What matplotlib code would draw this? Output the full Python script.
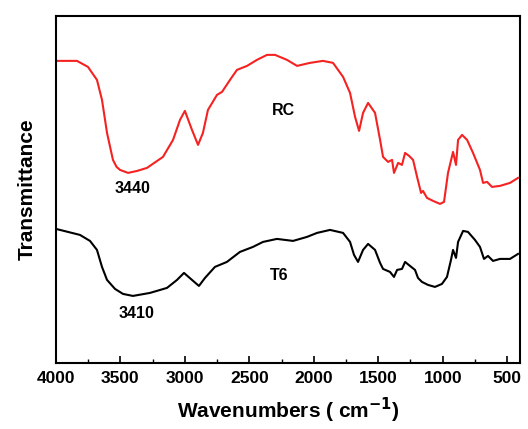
import numpy as np
import matplotlib.pyplot as plt
from matplotlib.ticker import MultipleLocator

plt.rcParams['font.family'] = ['Liberation Sans', 'DejaVu Sans']
plt.rcParams['font.weight'] = 'bold'
plt.rcParams['mathtext.default'] = 'bf'

# wavenumbers (cm-1) and transmittance (arb. units)
rc_wn = [4000, 3837, 3752, 3682, 3643, 3604, 3558, 3530, 3503, 3441, 3370, 3294, 3170, 3092, 3038, 3000,
         2945, 2898, 2860, 2821, 2751, 2712, 2650, 2596, 2518, 2441, 2363, 2301, 2208, 2130,
         2030, 1929, 1851, 1773, 1719, 1680, 1649, 1618, 1579, 1525, 1486, 1463, 1424, 1393,
         1378, 1346, 1316, 1292, 1261, 1230, 1199, 1168, 1153, 1122, 1075, 1021, 990, 959,
         920, 897, 881, 850, 811, 765, 711, 687, 656, 618, 556, 478, 416]
rc_t = [302, 302, 296, 283, 263, 230, 203, 196, 193, 190, 192, 195, 206, 223, 243, 252,
        233, 218, 230, 253, 268, 271, 283, 293, 297, 303, 308, 308, 303, 297,
        300, 302, 300, 286, 270, 246, 232, 250, 260, 250, 223, 206, 201, 203,
        190, 200, 198, 210, 207, 203, 186, 170, 172, 165, 162, 159, 161, 190,
        211, 198, 223, 228, 223, 210, 193, 180, 181, 176, 177, 180, 185]

t6_wn = [4000, 3814, 3736, 3682, 3643, 3604, 3542, 3480, 3403, 3271, 3139, 3061, 3007, 2945,
         2891, 2844, 2767, 2674, 2573, 2472, 2394, 2286, 2161, 2053, 1975, 1874, 1773, 1719,
         1688, 1657, 1618, 1579, 1525, 1486, 1463, 1409, 1378, 1354, 1316, 1292, 1254, 1215,
         1192, 1161, 1114, 1060, 1006, 967, 936, 920, 897, 881, 842, 804, 750, 711, 680,
         649, 610, 556, 478, 416]
t6_t = [134, 128, 122, 113, 96, 83, 74, 69, 67, 70, 75, 83, 90, 83,
        77, 85, 96, 101, 111, 116, 121, 124, 122, 126, 130, 133, 130, 121,
        108, 101, 113, 119, 113, 100, 94, 91, 86, 93, 94, 101, 97, 93,
        85, 81, 78, 76, 79, 86, 103, 113, 105, 121, 132, 131, 123, 116, 104,
        107, 102, 104, 104, 109]

fig = plt.figure(figsize=(5.28, 4.29), dpi=100)
ax = fig.add_axes([0.106, 0.154, 0.879, 0.809])

ax.plot(rc_wn, rc_t, color='#f52222', lw=1.5)
ax.plot(t6_wn, t6_t, color='black', lw=1.5)

ax.text(2239, 252, 'RC', fontsize=11.5, fontweight='bold', ha='center', va='center')
ax.text(3410, 174, '3440', fontsize=11.5, fontweight='bold', ha='center', va='center')
ax.text(2270, 87, 'T6', fontsize=11.5, fontweight='bold', ha='center', va='center')
ax.text(3372, 49, '3410', fontsize=11.5, fontweight='bold', ha='center', va='center')

ax.set_xlim(4000, 400)
ax.set_ylim(0, 347)
ax.xaxis.set_major_locator(MultipleLocator(500))
ax.xaxis.set_minor_locator(MultipleLocator(250))
ax.set_yticks([])
ax.tick_params(axis='x', which='major', direction='in', length=5, width=1.2, labelsize=12.5, pad=6)
ax.tick_params(axis='x', which='minor', direction='in', length=3, width=1.0)
for lab in ax.get_xticklabels():
    lab.set_fontweight('bold')
for s in ax.spines.values():
    s.set_linewidth(1.5)

ax.set_xlabel('Wavenumbers ( cm$^{-1}$)', fontsize=15, fontweight='bold', labelpad=7)
ax.set_ylabel('Transmittance', fontsize=15, fontweight='bold', labelpad=14)

fig.savefig('out.png', dpi=100)
